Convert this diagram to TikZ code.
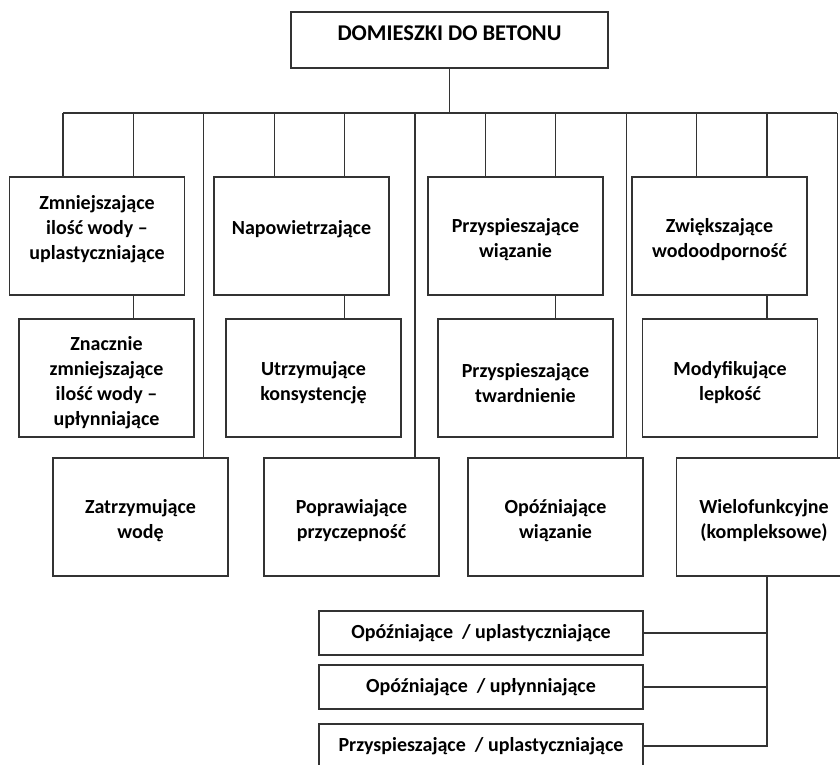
\documentclass[tikz,border=0pt]{standalone}
\usepackage{fontspec}
\setmainfont{Carlito}

\tikzset{
  box/.style={draw=black!80, line width=1.3pt, minimum width=175pt, minimum height=118pt, inner sep=0pt},
  wbox/.style={box, minimum width=324pt, minimum height=44pt},
  lbl/.style={align=center, inner sep=0pt, font=\fontsize{20}{25}\selectfont\bfseries},
  conn/.style={draw=black!80, line width=1.2pt}
}

\begin{document}
\begin{tikzpicture}[x=1pt,y=-1pt]
\useasboundingbox (0,0) rectangle (840,764);
\node[box, minimum width=317pt, minimum height=56pt] (dom) at (449.5,40) {};
\node[box] (zmn) at (97,236) {}; \node[box] (nap) at (301.5,236) {}; \node[box] (prz) at (515.5,236) {}; \node[box] (zwi) at (719.5,236) {};
\node[box] (znu) at (106.5,378) {}; \node[box] (utk) at (313.5,378) {}; \node[box] (prt) at (525.5,378) {}; \node[box] (mod) at (730,378) {};
\node[box] (zat) at (140.5,517) {}; \node[box] (pop) at (351.5,517) {}; \node[box] (opo) at (555.5,517) {}; \node[box] (wie) at (764,517) {};
\node[wbox] (wo1) at (481,633) {}; \node[wbox] (wo2) at (481,687) {}; \node[wbox] (wo3) at (481,746) {};
\node[lbl, font=\fontsize{22.5}{27}\selectfont\bfseries] (dom-t) at ([yshift=7pt]dom.center) {DOMIESZKI DO BETONU};
\node[lbl] (zmn-t) at ([yshift=7pt]zmn.center) {Zmniejszające\\ ilość wody --\\ uplastyczniające};
\node[lbl] (nap-t) at ([yshift=6.5pt]nap.center) {Napowietrzające};
\node[lbl] (prz-t) at ([yshift=-4pt]prz.center) {Przyspieszające\\ wiązanie};
\node[lbl] (zwi-t) at ([yshift=-4pt]zwi.center) {Zwiększające\\ wodoodporność};
\node[lbl] (znu-t) at ([yshift=-5pt]znu.center) {Znacznie\\ zmniejszające\\ ilość wody --\\ upłynniające};
\node[lbl] (utk-t) at ([yshift=-5pt]utk.center) {Utrzymujące\\ konsystencję};
\node[lbl] (prt-t) at ([yshift=-5pt]prt.center) {Przyspieszające\\ twardnienie};
\node[lbl] (mod-t) at ([yshift=-5pt]mod.center) {Modyfikujące\\ lepkość};
\node[lbl] (zat-t) at ([yshift=-4pt]zat.center) {Zatrzymujące\\ wodę};
\node[lbl] (pop-t) at ([yshift=-4pt]pop.center) {Poprawiające\\ przyczepność};
\node[lbl] (opo-t) at ([yshift=-4pt]opo.center) {Opóźniające\\ wiązanie};
\node[lbl] (wie-t) at ([yshift=-4pt]wie.center) {Wielofunkcyjne\\ (kompleksowe)};
\node[lbl] (wo1-t) at (wo1.center) {Opóźniające~ / uplastyczniające};
\node[lbl] (wo2-t) at (wo2.center) {Opóźniające~ / upłynniające};
\node[lbl] (wo3-t) at (wo3.center) {Przyspieszające~ / uplastyczniające};
\foreach \k in {0,...,11} \coordinate (b\k) at (63+70.4*\k,113);
\draw[conn] (dom.south) -- (dom.south |- b0);
\draw[conn] (b0) -- (b11);
\foreach \k/\n in {0/zmn,1/zmn,3/nap,4/nap,6/prz,7/prz,9/zwi,10/zwi,2/zat,5/pop,8/opo,11/wie}
  \draw[conn] (b\k) -- (b\k |- \n.north);
\foreach \k/\a/\n in {1/zmn/znu,4/nap/utk,7/prz/prt,10/zwi/mod}
  \draw[conn] (b\k |- \a.south) -- (b\k |- \n.north);
\draw[conn] (b10 |- wie.south) -- (b10 |- wo3.east) -- (wo3.east);
\draw[conn] (wo1.east) -- (wo1.east -| b10);
\draw[conn] (wo2.east) -- (wo2.east -| b10);
\end{tikzpicture}
\end{document}
